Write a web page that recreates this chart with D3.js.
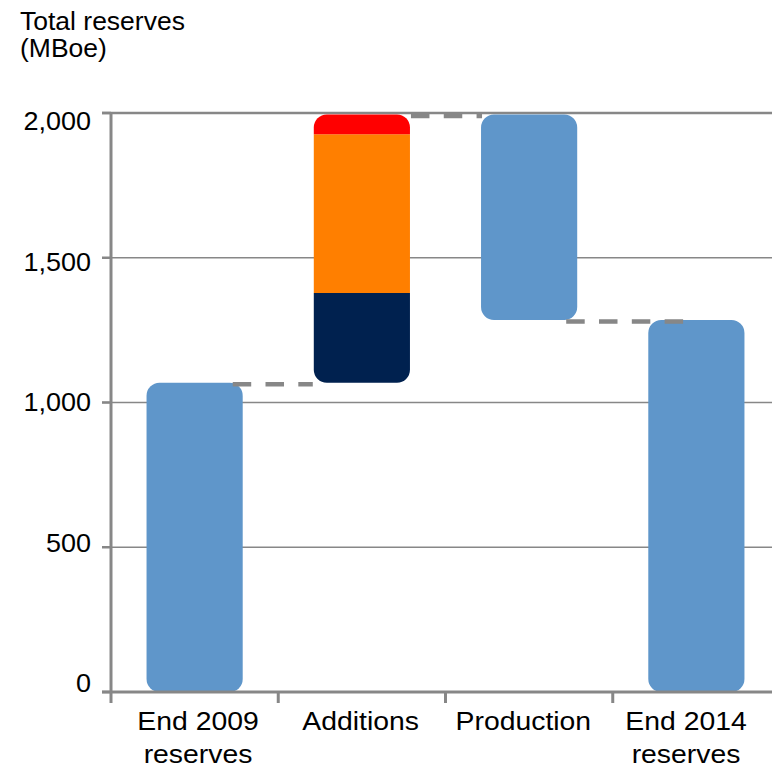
<!DOCTYPE html>
<html>
<head>
<meta charset="utf-8">
<script src="https://cdn.jsdelivr.net/npm/d3@7"></script>
<style>
  html, body { margin: 0; padding: 0; background: #fff; }
  svg { display: block; font-family: "Liberation Sans", Arial, sans-serif; }
</style>
</head>
<body>
<svg id="chart" width="772" height="769"></svg>
<script>
// Reserves bridge, MBoe
const categories = ["End 2009 reserves", "Additions", "Production", "End 2014 reserves"];
const categoryLines = [["End 2009", "reserves"], ["Additions"], ["Production"], ["End 2014", "reserves"]];
const startReserves = 1068;
const additionParts = [310, 549, 68];          // stacked from the bottom up
const additionColors = ["#00214f", "#ff7f00", "#ff0000"];
const production = -710;
const endReserves = 1285;
const yTicks = [0, 500, 1000, 1500, 2000];
const yTickLabels = ["0", "500", "1,000", "1,500", "2,000"];
const titleLines = ["Total reserves", "(MBoe)"];

const blue = "#5f96ca";
const grey = "#878787";

const svg = d3.select("#chart");
const W = 772;

const x = d3.scaleBand().domain(categories).range([111, 780]).padding(0);
const y = d3.scaleLinear().domain([0, 2000]).range([692, 113]);
const barW = x.bandwidth() * 0.575;
const barX = c => x(c) + (x.bandwidth() - barW) / 2;

// label placement sits on a slightly tighter grid than the plot
const labelX = d3.scalePoint().domain(categories).range([198, 686]);
const labelY = d3.scaleLinear().domain([0, 2000]).range([683, 121]);

// gridlines
svg.append("g").selectAll("line").data(yTicks.filter(v => v > 0)).join("line")
  .attr("x1", 102).attr("x2", W)
  .attr("y1", d => y(d)).attr("y2", d => y(d))
  .attr("stroke", grey).attr("stroke-width", d => d === 2000 ? 2.5 : 1.6);

// y axis tick marks
svg.append("g").selectAll("line").data(yTicks).join("line")
  .attr("x1", 102).attr("x2", 111)
  .attr("y1", d => y(d)).attr("y2", d => y(d))
  .attr("stroke", grey).attr("stroke-width", 2.5);

// bar segments
const segs = [];
segs.push({c: categories[0], a: 0, b: startReserves, col: blue, rb: true, rt: true});
let acc = startReserves;
additionParts.forEach((v, i) => {
  segs.push({c: categories[1], a: acc, b: acc + v, col: additionColors[i],
             rb: i === 0, rt: i === additionParts.length - 1});
  acc += v;
});
const topLevel = acc;
segs.push({c: categories[2], a: topLevel + production, b: topLevel, col: blue, rb: true, rt: true});
segs.push({c: categories[3], a: 0, b: endReserves, col: blue, rb: true, rt: true});

function segPath(s) {
  const r = 13;
  const x0 = barX(s.c), x1 = x0 + barW;
  const yt = y(s.b), yb = y(s.a);
  const rt = s.rt ? r : 0, rb = s.rb ? r : 0;
  const p = d3.path();
  p.moveTo(x0 + rt, yt);
  p.lineTo(x1 - rt, yt);
  if (rt) p.arcTo(x1, yt, x1, yt + rt, rt);
  p.lineTo(x1, yb - rb);
  if (rb) p.arcTo(x1, yb, x1 - rb, yb, rb);
  p.lineTo(x0 + rb, yb);
  if (rb) p.arcTo(x0, yb, x0, yb - rb, rb);
  p.lineTo(x0, yt + rt);
  if (rt) p.arcTo(x0, yt, x0 + rt, yt, rt);
  p.closePath();
  return p.toString();
}

svg.append("g").selectAll("path").data(segs).join("path")
  .attr("d", segPath).attr("fill", d => d.col);

// dashed connectors between consecutive bars
const connectors = [
  {from: categories[0], to: categories[1], v: startReserves, s0: -10, s1: -1},
  {from: categories[1], to: categories[2], v: topLevel, s0: 1, s1: 1},
  {from: categories[2], to: categories[3], v: endReserves, s0: -11, s1: 37}
];
svg.append("g").selectAll("line").data(connectors).join("line")
  .attr("x1", d => barX(d.from) + barW + d.s0)
  .attr("x2", d => barX(d.to) + d.s1)
  .attr("y1", d => y(d.v) + 1.5).attr("y2", d => y(d.v) + 1.5)
  .attr("stroke", grey).attr("stroke-width", 4.5)
  .attr("stroke-dasharray", "18.5,14.3");

// axes lines
svg.append("line").attr("x1", 111).attr("x2", 111).attr("y1", 112).attr("y2", 703)
  .attr("stroke", grey).attr("stroke-width", 3);
svg.append("line").attr("x1", 102).attr("x2", W).attr("y1", 692).attr("y2", 692)
  .attr("stroke", grey).attr("stroke-width", 3);
// category separators on the x axis
svg.append("g").selectAll("line").data(categories.slice(1)).join("line")
  .attr("x1", d => x(d)).attr("x2", d => x(d))
  .attr("y1", 692).attr("y2", 703)
  .attr("stroke", grey).attr("stroke-width", 3);

function txt(g, tx, ty, s, anchor, size, sx) {
  g.append("text")
    .attr("transform", `translate(${tx},${ty}) scale(${sx},1)`)
    .attr("text-anchor", anchor)
    .attr("font-size", size)
    .attr("fill", "#000")
    .text(s);
}

// y tick labels
const gy = svg.append("g");
yTicks.forEach((v, i) => txt(gy, 91, labelY(v) + 9, yTickLabels[i], "end", 25, 1.08));

// x category labels
const gx = svg.append("g");
categories.forEach((c, i) => {
  categoryLines[i].forEach((ln, j) => txt(gx, labelX(c), 730 + j * 33, ln, "middle", 26.5, 1.07));
});

// axis title
const gt = svg.append("g");
titleLines.forEach((ln, j) => txt(gt, 20, 29.5 + j * 27.5, ln, "start", 25, 1.06));
</script>
</body>
</html>
